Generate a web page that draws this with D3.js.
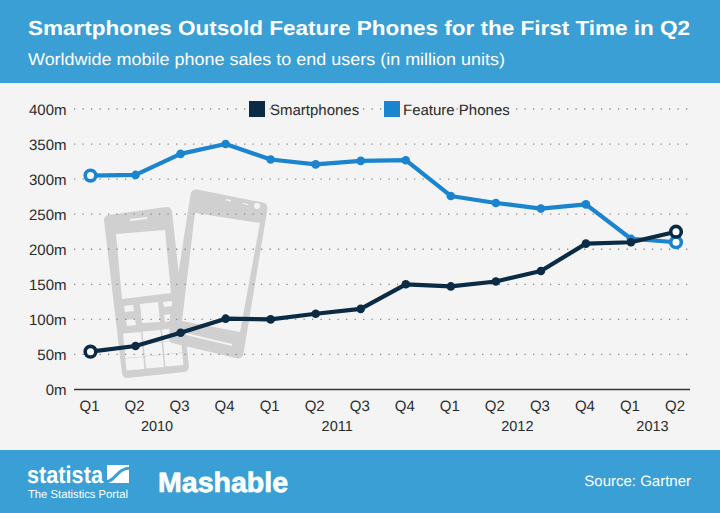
<!DOCTYPE html>
<html>
<head>
<meta charset="utf-8">
<script src="https://cdn.jsdelivr.net/npm/d3@7"></script>
<style>
html, body { margin: 0; padding: 0; background: #f4f4f4; }
svg { display: block; }
text { font-family: "Liberation Sans", Arial, sans-serif; text-rendering: geometricPrecision; }
</style>
</head>
<body>
<div id="chart"></div>
<script>
const quarters = ['Q1','Q2','Q3','Q4','Q1','Q2','Q3','Q4','Q1','Q2','Q3','Q4','Q1','Q2'];
const smartphones = [54,62,81,101,100,108,115,150,147,154,169,208,210,225];
const featurePhones = [305,306,336,350,328,321,326,327,276,266,258,264,215,210];
const yTicks = [0,50,100,150,200,250,300,350,400];
const years = [['2010',0,3],['2011',4,7],['2012',8,11],['2013',12,13]];
const seriesNames = ['Smartphones','Feature Phones'];

const darkCol = '#0b2b45', blueCol = '#1a84cf', bandCol = '#3a9fd5', textCol = '#2b2b2b';
const w = 720, h = 513;

const svg = d3.select('#chart').append('svg').attr('width', w).attr('height', h);

svg.append('rect').attr('width', w).attr('height', h).attr('fill', '#f4f4f4');
svg.append('rect').attr('width', w).attr('height', 83).attr('fill', bandCol);
svg.append('rect').attr('y', 450).attr('width', w).attr('height', 63).attr('fill', bandCol);

svg.append('text').attr('x', 28).attr('y', 35).attr('fill', '#fff')
	.attr('font-size', 20.5).attr('font-weight', 'bold')
	.attr('textLength', 662).attr('lengthAdjust', 'spacingAndGlyphs')
	.text('Smartphones Outsold Feature Phones for the First Time in Q2');
svg.append('text').attr('x', 28).attr('y', 65).attr('fill', '#fff')
	.attr('font-size', 17)
	.attr('textLength', 477).attr('lengthAdjust', 'spacingAndGlyphs')
	.text('Worldwide mobile phone sales to end users (in million units)');

const x = d3.scalePoint().domain(d3.range(quarters.length)).range([90.5, 676]);
const y = d3.scaleLinear().domain([0, 400]).range([389.5, 109]);

// phones behind the grid
const art = svg.append('g');
const grey = '#d0d0d0', hole = '#f4f4f4';
function poly(pts, fill, round) {
	art.append('path').attr('d', 'M' + pts.join('L') + 'Z').attr('fill', fill)
		.attr('stroke', fill).attr('stroke-width', round || 0).attr('stroke-linejoin', 'round');
}
// feature phone
poly([[109,220],[167,212],[184,367],[127,373]], grey, 10);
poly([[116,234],[165,230],[171,293],[122,299]], hole);
poly([[130,219],[147,217],[147,219],[130,221]], hole);
poly([[124,306],[133,305],[134,311],[125,312]], hole);
poly([[126,320],[135,319],[136,325],[127,326]], hole);
poly([[140,304],[158,302],[160,322],[142,323]], hole);
poly([[163,302],[172,301],[172,306],[164,307]], hole);
poly([[164,315],[170,314],[170,321],[165,322]], hole);
[0,1,2].forEach(function(c){
	[0,1,2].forEach(function(r){
		const px = 123 + c*19.5 + r*1.2, py = 333.5 - c*2 + r*12.5;
		poly([[px,py],[px+18,py-1.5],[px+19,py+10.5],[px+1,py+12]], hole);
	});
});
// smartphone
poly([[196,195],[262,208],[238,353],[174,338]], grey, 11);
poly([[195,213],[260,223],[240,332],[182,321]], hole);
poly([[226,199],[231,200],[231,201.5],[226,200.5]], hole);
poly([[243,203],[248,204],[248,205],[243,204]], hole);
art.append('circle').attr('cx', 257).attr('cy', 206).attr('r', 3).attr('fill', hole);
poly([[186,333],[232,344],[232,346],[186,335]], hole);

// grid
svg.append('g').selectAll('line')
	.data(yTicks.filter(d => d > 0))
	.enter()
	.append('line')
	.attr('x1', 74).attr('x2', 690)
	.attr('y1', d => y(d)).attr('y2', d => y(d))
	.attr('stroke', '#8a8a8a').attr('stroke-width', 1.3)
	.attr('stroke-dasharray', '1.3 7.2');

svg.append('line').attr('x1', 74).attr('x2', 690)
	.attr('y1', y(0)).attr('y2', y(0))
	.attr('stroke', '#333').attr('stroke-width', 1.5);

// axis labels
svg.append('g').selectAll('text')
	.data(yTicks)
	.enter()
	.append('text')
	.attr('x', 66.5).attr('y', d => y(d) + 5.5)
	.attr('text-anchor', 'end').attr('font-size', 15).attr('fill', textCol)
	.text(d => d + 'm');

svg.append('g').selectAll('text')
	.data(quarters)
	.enter()
	.append('text')
	.attr('x', (d, i) => x(i) - 1).attr('y', 411)
	.attr('text-anchor', 'middle').attr('font-size', 15).attr('fill', textCol)
	.text(d => d);

svg.append('g').selectAll('text')
	.data(years)
	.enter()
	.append('text')
	.attr('x', d => (x(d[1]) + x(d[2])) / 2 - 1).attr('y', 431)
	.attr('text-anchor', 'middle').attr('font-size', 14.5).attr('fill', textCol)
	.text(d => d[0]);

// lines
const line = d3.line().x((d, i) => x(i)).y(d => y(d));

function drawSeries(values, col) {
	const g = svg.append('g');
	g.append('path').datum(values).attr('d', line)
		.attr('fill', 'none').attr('stroke', col).attr('stroke-width', 4.2)
		.attr('stroke-linejoin', 'round');
	g.selectAll('circle')
		.data(values)
		.enter()
		.append('circle')
		.attr('cx', (d, i) => x(i)).attr('cy', d => y(d))
		.attr('r', (d, i) => (i === 0 || i === values.length - 1) ? 5.3 : 4.3)
		.attr('fill', (d, i) => (i === 0 || i === values.length - 1) ? '#fff' : col)
		.attr('stroke', col)
		.attr('stroke-width', (d, i) => (i === 0 || i === values.length - 1) ? 3.6 : 0);
}
drawSeries(featurePhones, blueCol);
drawSeries(smartphones, darkCol);

// legend
const legend = svg.append('g');
const legendX = [249, 384], legendCols = [darkCol, blueCol];
const legendTextX = [270, 403];
seriesNames.forEach(function(name, i) {
	legend.append('rect').attr('x', legendX[i]).attr('y', 101).attr('width', 16).attr('height', 16)
		.attr('fill', legendCols[i]);
	legend.append('text').attr('x', legendTextX[i]).attr('y', 114.5)
		.attr('font-size', 15).attr('fill', textCol).text(name);
});

// footer
svg.append('text').attr('x', 27).attr('y', 483).attr('fill', '#fff')
	.attr('font-size', 24).attr('font-weight', 'bold')
	.attr('textLength', 76).attr('lengthAdjust', 'spacingAndGlyphs')
	.text('statista');
svg.append('rect').attr('x', 107).attr('y', 465).attr('width', 22).attr('height', 18).attr('fill', '#fff');
svg.append('path').attr('d', 'M105 482C116 482 116 468 131 468')
	.attr('fill', 'none').attr('stroke', bandCol).attr('stroke-width', 3);
svg.append('text').attr('x', 28).attr('y', 497.5).attr('fill', '#fff')
	.attr('font-size', 11.5).attr('textLength', 100).attr('lengthAdjust', 'spacingAndGlyphs')
	.text('The Statistics Portal');
svg.append('text').attr('x', 158).attr('y', 492).attr('fill', '#fff')
	.attr('font-size', 28).attr('font-weight', 'bold')
	.attr('textLength', 130).attr('lengthAdjust', 'spacingAndGlyphs')
	.attr('stroke', '#fff').attr('stroke-width', 0.7)
	.text('Mashable');
svg.append('text').attr('x', 691).attr('y', 486).attr('fill', '#fff')
	.attr('text-anchor', 'end').attr('font-size', 15)
	.text('Source: Gartner');
</script>
</body>
</html>
